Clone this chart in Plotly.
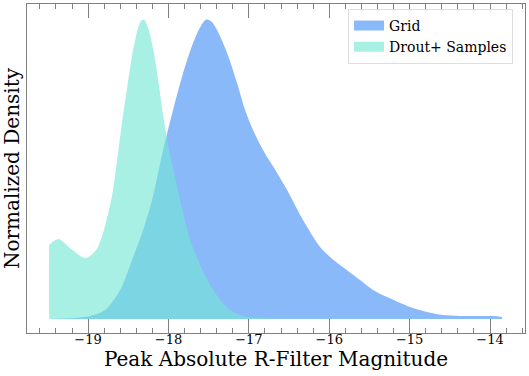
import plotly.graph_objects as go

# Peak absolute R-filter magnitude (x) and normalized density (y)
grid_mag = [-19.485, -19.187, -18.975, -18.789, -18.602, -18.453, -18.316, -18.204, -18.067, -17.943,
            -17.818, -17.694, -17.6, -17.53, -17.46, -17.396, -17.271, -17.147, -17.047, -16.948,
            -16.824, -16.649, -16.525, -16.326, -16.114, -15.99, -15.866, -15.617, -15.455, -15.281,
            -14.995, -14.784, -14.585, -14.373, -13.963, -13.851]
grid_density = [0.0, 0.003, 0.01, 0.03, 0.097, 0.197, 0.297, 0.397, 0.563, 0.697,
                0.82, 0.92, 0.975, 0.998, 0.99, 0.963, 0.887, 0.787, 0.697, 0.63,
                0.563, 0.487, 0.43, 0.33, 0.24, 0.207, 0.18, 0.13, 0.097, 0.073,
                0.04, 0.023, 0.013, 0.01, 0.01, 0.007]

drout_mag = [-19.485, -19.373, -19.224, -19.037, -18.9, -18.8, -18.701, -18.639, -18.577, -18.515,
             -18.44, -18.378, -18.34, -18.3, -18.254, -18.192, -18.129, -18.067, -18.005, -17.943,
             -17.856, -17.731, -17.632, -17.445, -17.234, -17.022, -16.736, -15.99, -14.87, -13.851]
drout_density = [0.247, 0.267, 0.237, 0.203, 0.23, 0.3, 0.413, 0.53, 0.657, 0.77,
                 0.897, 0.97, 0.995, 0.997, 0.97, 0.903, 0.797, 0.68, 0.58, 0.503,
                 0.397, 0.263, 0.197, 0.097, 0.03, 0.007, 0.002, 0.001, 0.001, 0.001]

FONT = 'DejaVu Serif'
AXIS_COLOR = '#808080'
GRID_COLOR = 'rgb(138,185,250)'
DROUT_COLOR = 'rgba(116,231,212,0.62)'

fig = go.Figure()
fig.add_trace(go.Scatter(x=grid_mag, y=grid_density, name='Grid', mode='lines', showlegend=False,
                         line=dict(width=0, shape='spline', smoothing=0.85),
                         fill='tozeroy', fillcolor=GRID_COLOR))
fig.add_trace(go.Scatter(x=drout_mag, y=drout_density, name='Drout+ Samples', mode='lines',
                         showlegend=False, line=dict(width=0, shape='spline', smoothing=0.85),
                         fill='tozeroy', fillcolor=DROUT_COLOR))
# legend-only entries so the swatches are wide boxes like the original
for name, color in [('Grid', GRID_COLOR), ('Drout+ Samples', 'rgb(168,240,228)')]:
    fig.add_trace(go.Scatter(x=[None], y=[None], name=name, mode='lines',
                             line=dict(width=10, color=color)))

fig.update_layout(
    width=529, height=376,
    margin=dict(l=27, r=4, t=4, b=43),
    plot_bgcolor='white', paper_bgcolor='white',
    font=dict(family=FONT, color='black'),
    showlegend=True,
    legend=dict(x=0.976, y=0.985, xanchor='right', yanchor='top',
                bgcolor='white', bordercolor='#dddddd', borderwidth=1,
                font=dict(size=14, family=FONT), itemwidth=30,
                tracegroupgap=0),
    xaxis=dict(
        range=[-19.76, -13.565], showgrid=False, zeroline=False,
        showline=True, linecolor=AXIS_COLOR, linewidth=1, mirror='allticks',
        ticks='inside', ticklen=14, tickcolor=AXIS_COLOR, tickwidth=1,
        dtick=1, tick0=-19, tickfont=dict(size=13, family=FONT), ticklabelstandoff=-6,
        minor=dict(ticks='inside', ticklen=5, dtick=0.2, tickcolor=AXIS_COLOR, showgrid=False),
        title=dict(text='Peak Absolute R-Filter Magnitude', font=dict(size=20, family=FONT), standoff=2),
    ),
    yaxis=dict(
        range=[-0.0467, 1.05], showgrid=False, zeroline=False,
        showline=True, linecolor=AXIS_COLOR, linewidth=1, mirror=True,
        ticks='', showticklabels=False,
        title=dict(text='Normalized Density', font=dict(size=20, family=FONT), standoff=2),
    ),
)

# drop the browser's default page margin so the figure sits at the window corner
fig.write_html('out.html', config={'displayModeBar': False},
               post_script="document.body.style.margin='0';")
